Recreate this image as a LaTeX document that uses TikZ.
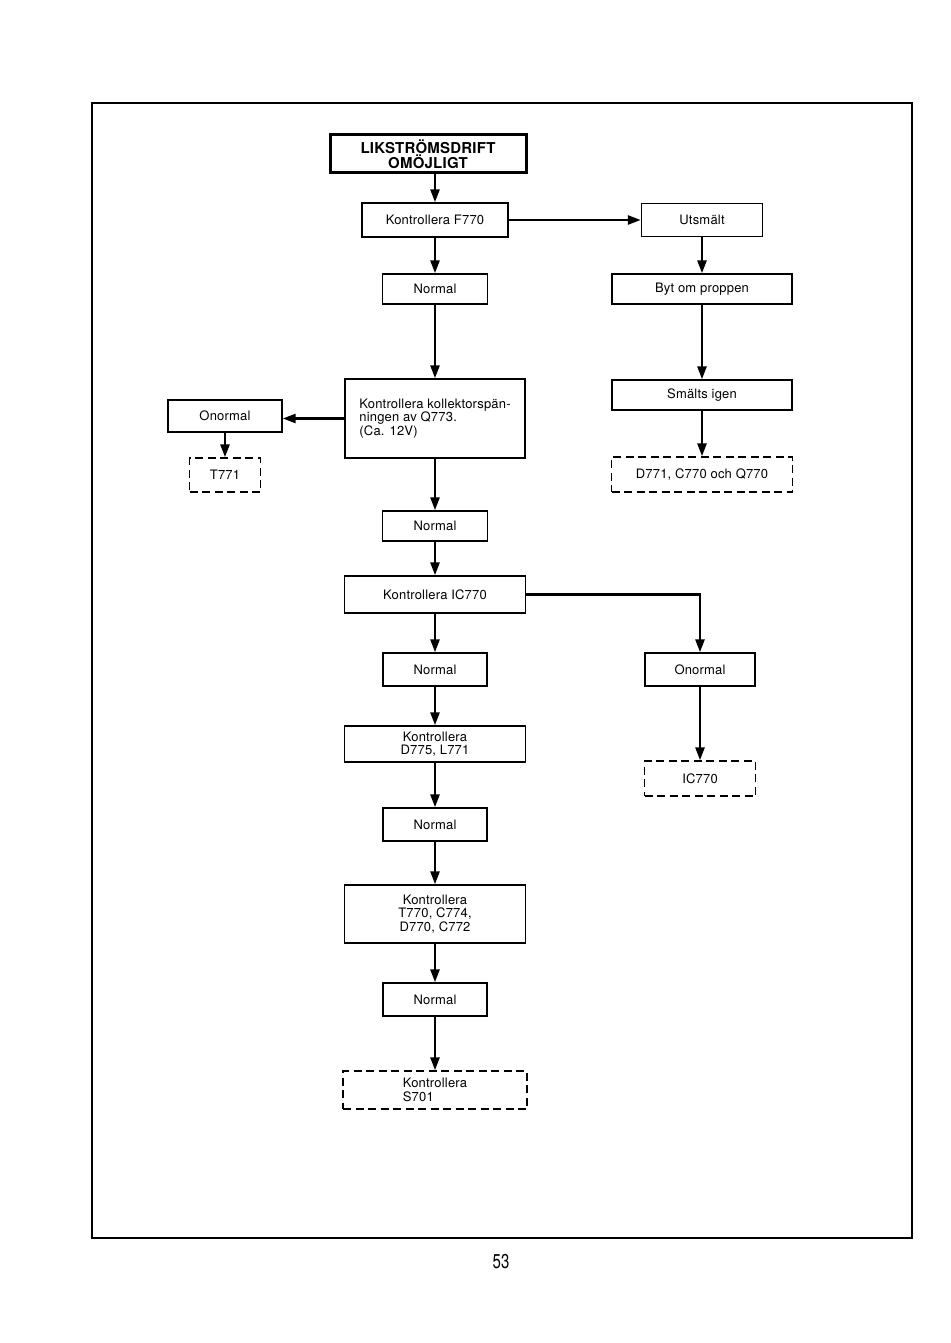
\documentclass[tikz,border=0pt]{standalone}
\usepackage{fontspec}
\setmainfont[LetterSpace=1.5]{TeX Gyre Heros}
\newfontfamily\pagefont[FakeStretch=0.75]{TeX Gyre Heros}
\usetikzlibrary{arrows.meta}

\begin{document}
\begin{tikzpicture}[
		x=1pt, y=-1pt,
		box/.style={draw, line width=1.4pt, inner sep=0pt, align=center,
			font=\fontsize{13}{13.5}\selectfont},
		dbox/.style={box, dash pattern=on 8pt off 4.5pt},
		arr/.style={line width=2.6pt, -{Triangle[length=13pt, width=9pt]}}
	]
	\useasboundingbox (0,0) rectangle (950,1343);
	\draw[line width=1.4pt] (92,103) rectangle (912,1238);

	% main column
	\node[box, line width=3pt, minimum width=196pt, minimum height=38pt,
		font=\bfseries\fontsize{15}{15}\selectfont] (start) at (428,154) {LIKSTRÖMSDRIFT\\OMÖJLIGT};
	\node[box, minimum width=146pt, minimum height=34pt] (f770) at (435,220) {Kontrollera F770};
	\node[box, minimum width=105pt, minimum height=30pt] (norm1) at (435,289) {Normal};
	\node[box, align=left, minimum width=180pt, minimum height=79pt] (koll) at (435,418.5)
		{Kontrollera kollektorspän-\\ningen av Q773.\\(Ca. 12V)};
	\node[box, minimum width=105pt, minimum height=30pt] (norm2) at (435,526) {Normal};
	\node[box, minimum width=181pt, minimum height=37pt] (ic) at (435,594.5) {Kontrollera IC770};
	\node[box, minimum width=104pt, minimum height=33pt] (norm3) at (435,669.5) {Normal};
	\node[box, minimum width=181pt, minimum height=36pt] (d775) at (435,744) {Kontrollera\\D775, L771};
	\node[box, minimum width=104pt, minimum height=33pt] (norm4) at (435,824.5) {Normal};
	\node[box, minimum width=181pt, minimum height=58pt] (t770) at (435,914) {Kontrollera\\T770, C774,\\D770, C772};
	\node[box, minimum width=104pt, minimum height=33pt] (norm5) at (435,999.5) {Normal};
	\node[dbox, minimum width=184pt, minimum height=38pt, align=left] (s701) at (435,1090) {Kontrollera\\S701};

	% fuse branch
	\node[box, minimum width=121pt, minimum height=33pt] (uts) at (702,220) {Utsmält};
	\node[box, minimum width=180pt, minimum height=30pt] (byt) at (702,289) {Byt om proppen};
	\node[box, minimum width=180pt, minimum height=30pt] (smalt) at (702,395) {Smälts igen};
	\node[dbox, minimum width=181pt, minimum height=35pt] (d771) at (702,474.5) {D771, C770 och Q770};

	% left branch
	\node[box, minimum width=114pt, minimum height=32pt] (onorm1) at (225,416) {Onormal};
	\node[dbox, minimum width=71pt, minimum height=34pt] (t771) at (225,475) {T771};

	% IC branch
	\node[box, minimum width=110pt, minimum height=33pt] (onorm2) at (700,669.5) {Onormal};
	\node[dbox, minimum width=111pt, minimum height=35pt] (icd) at (700,778.5) {IC770};

	\node[font=\pagefont\fontsize{20}{20}\selectfont] (page) at (501,1262) {53};

	\draw[arr] (start.south -| f770.north) -- (f770.north);
	\draw[arr] (f770) -- (norm1);
	\draw[arr] (norm1) -- (koll);
	\draw[arr] (koll) -- (norm2);
	\draw[arr] (norm2) -- (ic);
	\draw[arr] (ic) -- (norm3);
	\draw[arr] (norm3) -- (d775);
	\draw[arr] (d775) -- (norm4);
	\draw[arr] (norm4) -- (t770);
	\draw[arr] (t770) -- (norm5);
	\draw[arr] (norm5) -- (s701);
	\draw[arr] (f770) -- (uts);
	\draw[arr] (uts) -- (byt);
	\draw[arr] (byt) -- (smalt);
	\draw[arr] (smalt) -- (d771);
	\draw[arr] (koll.west) -- (koll.west -| onorm1.east);
	\draw[arr] (onorm1) -- (t771);
	\draw[arr] (ic.east) -| (onorm2.north);
	\draw[arr] (onorm2) -- (icd);
\end{tikzpicture}
\end{document}
